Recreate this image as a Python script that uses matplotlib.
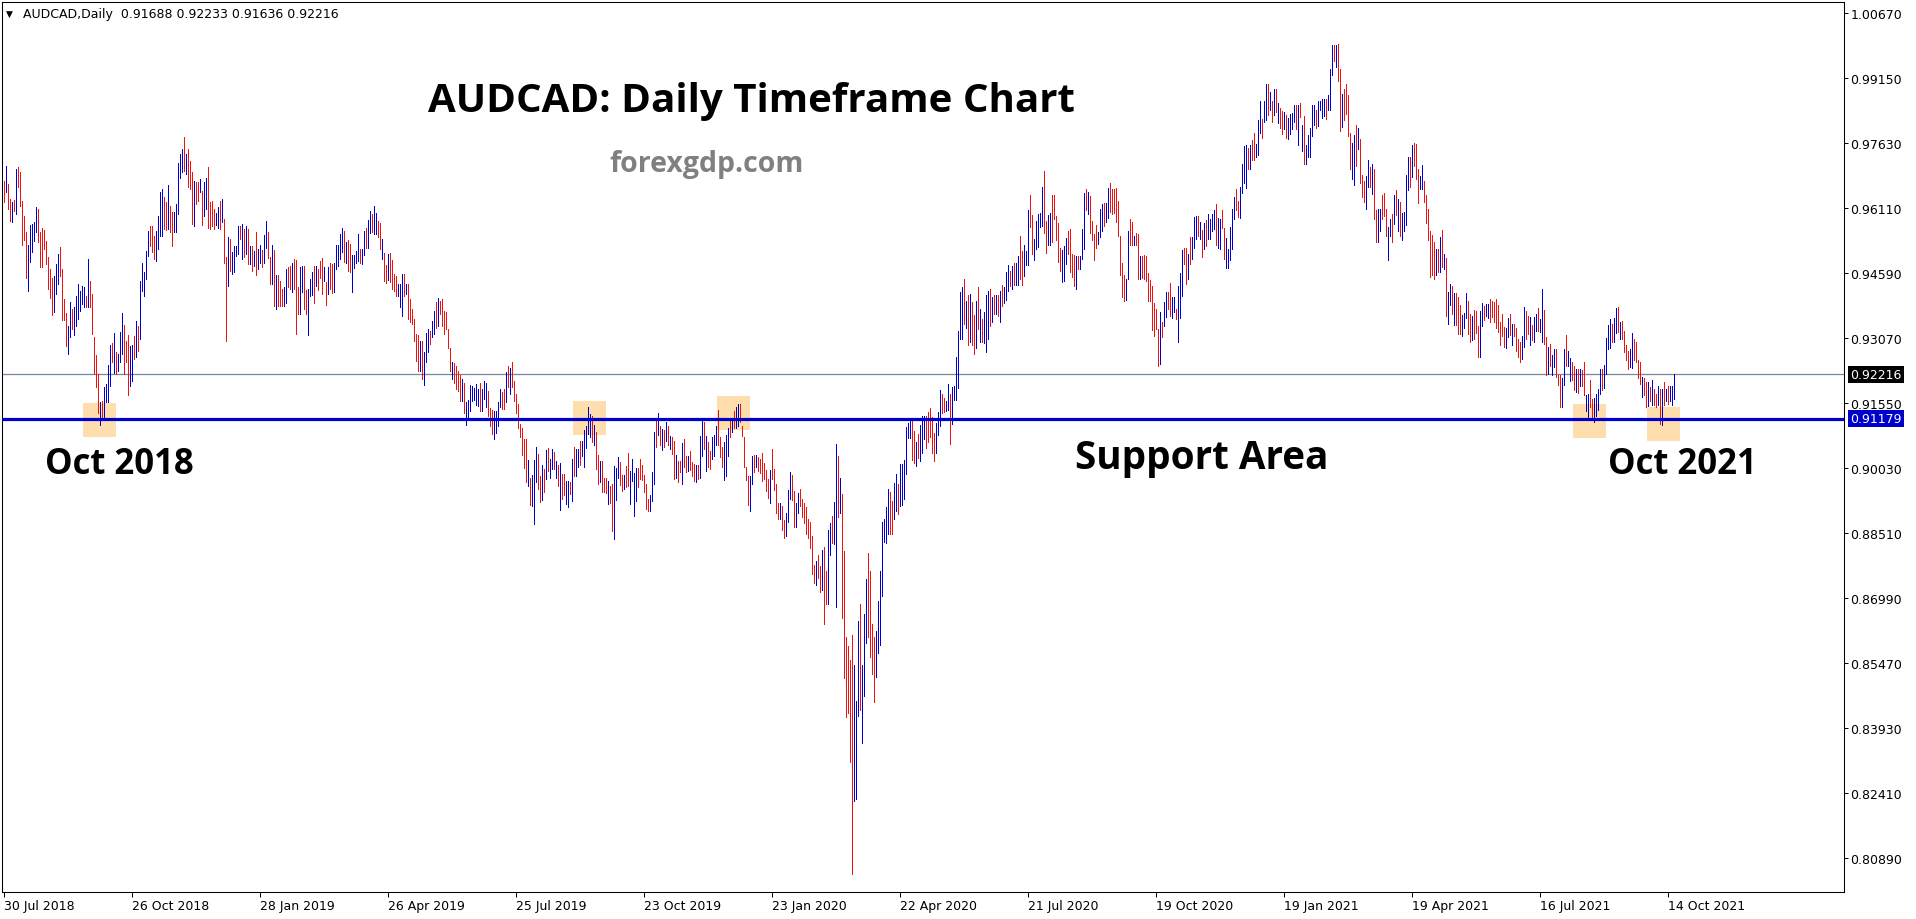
"""
AUDCAD daily bar chart (MetaTrader style) with the support area marked.
"""
import matplotlib
matplotlib.use("Agg")
import matplotlib.pyplot as plt
from matplotlib import transforms
from matplotlib.patches import Rectangle

# chart header values
SYMBOL = "AUDCAD,Daily"
LAST_OHLC = [0.91688, 0.92233, 0.91636, 0.92216]
SUPPORT = 0.91179

# price scale labels (right side)
PRICE_TICKS = [1.00670, 0.99150, 0.97630, 0.96110, 0.94590, 0.93070, 0.91550,
               0.90030, 0.88510, 0.86990, 0.85470, 0.83930, 0.82410, 0.80890]

# date labels, one every 64 bars starting with the first bar
DATE_LABELS = ["30 Jul 2018", "26 Oct 2018", "28 Jan 2019", "26 Apr 2019",
               "25 Jul 2019", "23 Oct 2019", "23 Jan 2020", "22 Apr 2020",
               "21 Jul 2020", "19 Oct 2020", "19 Jan 2021", "19 Apr 2021",
               "16 Jul 2021", "14 Oct 2021"]

# daily highs, in 1e-4 (pips)
HIGH_PIPS = [
    # Jul 2018 - Jan 2019
    9675, 9710, 9667, 9632, 9625, 9629, 9702, 9706, 9694, 9628,
    9593, 9554, 9524, 9571, 9573, 9577, 9612, 9608, 9555, 9563,
    9560, 9534, 9497, 9468, 9446, 9451, 9479, 9503, 9520, 9469,
    9398, 9366, 9335, 9391, 9374, 9378, 9405, 9433, 9417, 9429,
    9425, 9405, 9491, 9440, 9409, 9308, 9267, 9222, 9156, 9160,
    9191, 9199, 9243, 9290, 9295, 9318, 9273, 9269, 9320, 9366,
    9337, 9300, 9313, 9288, 9290, 9312, 9347, 9335, 9440, 9483,
    9462, 9511, 9557, 9568, 9569, 9546, 9557, 9593, 9647, 9655,
    9636, 9624, 9664, 9616, 9602, 9602, 9620, 9716, 9737, 9749,
    9777, 9737, 9749, 9721, 9694, 9675, 9671, 9671, 9678, 9651,
    9671, 9680, 9706, 9625, 9628, 9608, 9600, 9612, 9628, 9632,
    9585, 9495, 9542, 9538, 9507, 9522, 9522, 9569, 9569, 9573,
    9561, 9569, 9561, 9522, 9522, 9510, 9554, 9515, 9524,
    # Jan 2019 - Jul 2019
    9513, 9547, 9581, 9555, 9497, 9524, 9513, 9454, 9454, 9440,
    9421, 9426, 9469, 9472, 9475, 9483, 9491, 9489, 9427, 9472,
    9475, 9475, 9418, 9421, 9444, 9461, 9474, 9475, 9469, 9487,
    9493, 9472, 9438, 9472, 9482, 9479, 9482, 9524, 9524, 9550,
    9563, 9557, 9530, 9535, 9526, 9500, 9500, 9510, 9550, 9514,
    9514, 9557, 9565, 9582, 9604, 9596, 9616, 9600, 9581, 9575,
    9539, 9505, 9477, 9503, 9505, 9490, 9456, 9452, 9433, 9433,
    9456, 9456, 9433, 9433, 9397, 9374, 9351, 9316, 9313, 9300,
    9300, 9274, 9319, 9327, 9323, 9347, 9370, 9390, 9399, 9393,
    9397, 9370, 9368, 9327, 9284, 9251, 9249, 9241, 9230, 9220,
    9210, 9202, 9156, 9162, 9196, 9195, 9190, 9198, 9187, 9202,
    9187, 9206, 9201, 9183, 9142, 9138, 9136, 9136, 9156, 9188,
    9180, 9187, 9226, 9241, 9237,
    # Jul 2019 - Jan 2020
    9250, 9207, 9175, 9152, 9105, 9097, 9069, 9069, 9020, 8978,
    8986, 9022, 9052, 9035, 8984, 9009, 9000, 9045, 9048, 9023,
    9047, 9039, 9019, 9009, 9014, 8988, 8988, 8973, 8971, 8970,
    9023, 9051, 9047, 9047, 9066, 9066, 9092, 9100, 9144, 9129,
    9123, 9103, 9086, 9033, 9019, 9019, 8978, 8978, 8973, 8961,
    8965, 9008, 9002, 9027, 9016, 8986, 8986, 9008, 9037, 8996,
    9023, 8990, 9002, 9002, 9023, 9010, 8986, 8965, 8930, 8938,
    8994, 9087, 9117, 9131, 9100, 9094, 9092, 9111, 9100, 9078,
    9076, 9066, 9033, 9019, 9019, 9061, 9070, 9031, 9031, 9041,
    9016, 9012, 9009, 9009, 9078, 9117, 9111, 9078, 9064, 9043,
    9074, 9080, 9101, 9139, 9074, 9051, 9064, 9080, 9097, 9113,
    9117, 9136, 9144, 9152, 9152, 9101, 9076, 9004, 8984, 8984,
    9031, 9033, 9033, 9027, 9023,
    # Jan 2020 - Jun 2020
    9038, 9014, 8997, 8976, 8997, 9047, 8999, 8966, 8920, 8920,
    8913, 8880, 8896, 8951, 8992, 8986, 8949, 8920, 8944, 8954,
    8930, 8920, 8911, 8884, 8877, 8844, 8775, 8784, 8798, 8772,
    8810, 8817, 8762, 8858, 8874, 8890, 8922, 9059, 9031, 8978,
    8942, 8807, 8606, 8585, 8554, 8612, 8542, 8458, 8644, 8685,
    8542, 8660, 8743, 8803, 8762, 8637, 8606, 8621, 8690, 8762,
    8877, 8884, 8911, 8954, 8947, 8925, 8968, 8988, 8966, 9012,
    9012, 9021, 9098, 9107, 9114, 9114, 9088, 9062, 9081, 9103,
    9124, 9124, 9124, 9133, 9143, 9122, 9085, 9107, 9133, 9184,
    9175, 9165, 9160, 9200, 9175,
    # Jun 2020 - Dec 2020
    9191, 9194, 9262, 9324, 9415, 9425, 9445, 9394, 9407, 9410,
    9390, 9361, 9394, 9425, 9375, 9350, 9368, 9407, 9417, 9421,
    9402, 9406, 9407, 9406, 9417, 9431, 9425, 9460, 9478, 9464,
    9476, 9482, 9482, 9498, 9545, 9511, 9523, 9509, 9605, 9641,
    9595, 9537, 9581, 9597, 9599, 9659, 9698, 9581, 9595, 9599,
    9641, 9641, 9591, 9576, 9517, 9513, 9521, 9540, 9558, 9562,
    9503, 9501, 9498, 9499, 9498, 9562, 9646, 9654, 9648, 9638,
    9581, 9550, 9571, 9554, 9609, 9620, 9623, 9623, 9657, 9669,
    9654, 9654, 9657, 9626, 9545, 9482, 9454, 9445, 9556, 9584,
    9579, 9545, 9552, 9550, 9498, 9498, 9501, 9499, 9459, 9443,
    9428, 9389, 9375, 9328, 9367, 9345, 9390, 9415, 9415, 9435,
    9402, 9402, 9375, 9428, 9459, 9513, 9517, 9517, 9503, 9542,
    9542, 9589, 9591, 9593, 9579,
    # Dec 2020 - May 2021
    9560, 9576, 9582, 9597, 9584, 9597, 9605, 9621, 9587, 9585,
    9607, 9564, 9540, 9514, 9566, 9609, 9636, 9654, 9626, 9660,
    9714, 9755, 9759, 9751, 9759, 9769, 9787, 9761, 9816, 9860,
    9819, 9860, 9901, 9901, 9883, 9862, 9890, 9890, 9857, 9844,
    9837, 9835, 9829, 9821, 9831, 9833, 9852, 9851, 9852, 9857,
    9804, 9826, 9757, 9782, 9798, 9852, 9852, 9841, 9862, 9860,
    9865, 9865, 9866, 9876, 9935, 9993, 9993, 9993, 9995, 9935,
    9878, 9890, 9901, 9876, 9787, 9763, 9782, 9804, 9798, 9773,
    9687, 9675, 9685, 9722, 9706, 9714, 9701, 9607, 9609, 9609,
    9640, 9646, 9609, 9566, 9585, 9597, 9642, 9652, 9632, 9624,
    9599, 9601, 9687, 9730, 9730, 9759, 9763, 9761, 9702, 9685,
    9712, 9675, 9642, 9609, 9558, 9548, 9531, 9514, 9515, 9543,
    9560, 9504, 9493,
    # May 2021 - Oct 2021
    9414, 9433, 9429, 9412, 9412, 9402, 9383, 9361, 9365, 9412,
    9394, 9363, 9359, 9371, 9369, 9334, 9369, 9389, 9381, 9387,
    9387, 9397, 9392, 9390, 9398, 9384, 9345, 9363, 9332, 9330,
    9353, 9363, 9340, 9340, 9330, 9303, 9297, 9312, 9379, 9369,
    9359, 9355, 9336, 9355, 9363, 9376, 9351, 9422, 9371, 9308,
    9285, 9293, 9267, 9281, 9281, 9219, 9219, 9213, 9281, 9314,
    9277, 9259, 9250, 9241, 9234, 9234, 9233, 9231, 9250, 9172,
    9176, 9209, 9164, 9166, 9176, 9188, 9234, 9234, 9244, 9306,
    9337, 9351, 9340, 9353, 9376, 9379, 9345, 9347, 9324, 9291,
    9277, 9281, 9319, 9303, 9297, 9254, 9250, 9215, 9213, 9203,
    9203, 9191, 9209, 9186, 9176, 9195, 9188, 9188, 9203, 9186,
    9194, 9195, 9195, 9223,
]

# daily lows, in 1e-4 (pips)
LOW_PIPS = [
    # Jul 2018 - Jan 2019
    9625, 9647, 9608, 9581, 9577, 9604, 9596, 9659, 9616, 9524,
    9536, 9448, 9417, 9485, 9507, 9534, 9554, 9530, 9473, 9473,
    9515, 9480, 9421, 9401, 9361, 9368, 9409, 9433, 9452, 9348,
    9348, 9288, 9270, 9308, 9327, 9313, 9335, 9352, 9370, 9386,
    9378, 9378, 9378, 9378, 9316, 9222, 9192, 9132, 9103, 9121,
    9121, 9156, 9156, 9195, 9251, 9224, 9222, 9230, 9251, 9269,
    9222, 9250, 9173, 9195, 9207, 9257, 9261, 9277, 9304, 9417,
    9405, 9444, 9499, 9522, 9507, 9491, 9487, 9515, 9546, 9546,
    9561, 9560, 9561, 9554, 9521, 9554, 9554, 9596, 9682, 9694,
    9698, 9690, 9659, 9655, 9573, 9568, 9620, 9628, 9647, 9571,
    9593, 9608, 9565, 9561, 9569, 9561, 9570, 9565, 9561, 9577,
    9483, 9300, 9429, 9464, 9456, 9460, 9499, 9503, 9538, 9491,
    9495, 9503, 9479, 9479, 9464, 9475, 9454, 9468, 9483,
    # Jan 2019 - Jul 2019
    9473, 9482, 9516, 9493, 9433, 9433, 9382, 9374, 9382, 9382,
    9382, 9382, 9388, 9426, 9421, 9415, 9421, 9316, 9362, 9362,
    9415, 9374, 9362, 9313, 9405, 9407, 9388, 9429, 9419, 9448,
    9409, 9440, 9383, 9409, 9421, 9411, 9413, 9469, 9475, 9491,
    9507, 9485, 9483, 9464, 9461, 9415, 9470, 9483, 9487, 9483,
    9479, 9500, 9516, 9518, 9552, 9555, 9550, 9550, 9544, 9514,
    9491, 9440, 9435, 9443, 9438, 9420, 9417, 9405, 9405, 9378,
    9358, 9405, 9409, 9351, 9343, 9339, 9300, 9253, 9230, 9230,
    9210, 9196, 9251, 9273, 9292, 9308, 9316, 9331, 9335, 9362,
    9335, 9316, 9327, 9284, 9230, 9210, 9202, 9187, 9183, 9160,
    9160, 9132, 9103, 9118, 9136, 9160, 9162, 9149, 9148, 9136,
    9136, 9163, 9144, 9124, 9101, 9082, 9070, 9085, 9101, 9144,
    9140, 9140, 9156, 9191, 9175,
    # Jul 2019 - Jan 2020
    9191, 9160, 9131, 9097, 9074, 9033, 9002, 8969, 8960, 8916,
    8914, 8871, 8969, 8953, 8922, 8927, 8945, 8977, 8996, 8978,
    9000, 9000, 8978, 8961, 8905, 8930, 8938, 8918, 8910, 8941,
    8924, 8984, 8984, 9004, 9009, 9031, 9004, 9048, 9082, 9074,
    9064, 9055, 9000, 8965, 8969, 8947, 8945, 8944, 8918, 8920,
    8856, 8835, 8928, 8978, 8963, 8949, 8953, 8957, 8961, 8918,
    8973, 8890, 8924, 8957, 8977, 8975, 8945, 8906, 8902, 8902,
    8924, 8965, 9051, 9080, 9055, 9045, 9051, 9066, 9055, 9047,
    9035, 8977, 8978, 8969, 8992, 8965, 9004, 8992, 8996, 8998,
    8984, 8973, 8970, 8977, 8978, 9031, 9047, 8996, 9004, 9000,
    9023, 9030, 9055, 9055, 9027, 9004, 8975, 8983, 9031, 9074,
    9087, 9097, 9095, 9101, 9109, 9078, 9004, 8975, 8916, 8902,
    8965, 8994, 9004, 8996, 8991,
    # Jan 2020 - Jun 2020
    8973, 8976, 8949, 8932, 8920, 8976, 8951, 8896, 8884, 8884,
    8858, 8839, 8844, 8877, 8930, 8928, 8865, 8865, 8896, 8913,
    8887, 8874, 8848, 8839, 8815, 8755, 8733, 8729, 8746, 8711,
    8717, 8637, 8685, 8683, 8798, 8826, 8825, 8676, 8887, 8896,
    8652, 8510, 8420, 8429, 8314, 8053, 8222, 8228, 8422, 8436,
    8359, 8468, 8592, 8606, 8561, 8520, 8455, 8513, 8570, 8587,
    8702, 8829, 8826, 8848, 8848, 8848, 8882, 8901, 8894, 8913,
    8916, 8930, 8989, 9072, 9072, 9021, 9014, 9007, 9026, 9018,
    9037, 9069, 9050, 9064, 9076, 9037, 9018, 9037, 9079, 9101,
    9131, 9133, 9135, 9139, 9059,
    # Jun 2020 - Dec 2020
    9106, 9162, 9162, 9189, 9303, 9303, 9340, 9329, 9290, 9297,
    9289, 9269, 9283, 9328, 9297, 9298, 9295, 9273, 9304, 9334,
    9345, 9363, 9363, 9357, 9345, 9382, 9389, 9396, 9417, 9429,
    9420, 9431, 9431, 9431, 9445, 9431, 9451, 9478, 9478, 9566,
    9503, 9490, 9515, 9519, 9566, 9568, 9552, 9506, 9523, 9523,
    9531, 9585, 9535, 9485, 9464, 9437, 9439, 9480, 9503, 9460,
    9449, 9429, 9420, 9468, 9468, 9492, 9515, 9607, 9597, 9552,
    9535, 9488, 9517, 9527, 9542, 9558, 9568, 9579, 9587, 9601,
    9597, 9599, 9579, 9545, 9454, 9402, 9392, 9396, 9445, 9523,
    9524, 9523, 9524, 9445, 9445, 9446, 9445, 9441, 9394, 9394,
    9326, 9311, 9328, 9240, 9246, 9310, 9334, 9355, 9375, 9357,
    9353, 9367, 9351, 9298, 9353, 9404, 9480, 9433, 9445, 9480,
    9492, 9517, 9537, 9545, 9538,
    # Dec 2020 - May 2021
    9496, 9515, 9521, 9539, 9539, 9556, 9562, 9525, 9517, 9515,
    9564, 9492, 9470, 9470, 9490, 9514, 9584, 9605, 9589, 9587,
    9646, 9670, 9657, 9701, 9701, 9722, 9724, 9730, 9735, 9787,
    9774, 9813, 9816, 9829, 9839, 9813, 9829, 9835, 9810, 9798,
    9784, 9796, 9774, 9773, 9784, 9796, 9812, 9796, 9757, 9823,
    9745, 9714, 9714, 9730, 9730, 9779, 9804, 9798, 9802, 9839,
    9821, 9826, 9819, 9839, 9839, 9921, 9954, 9940, 9907, 9790,
    9800, 9816, 9831, 9779, 9702, 9679, 9665, 9710, 9748, 9670,
    9636, 9624, 9609, 9660, 9660, 9644, 9584, 9531, 9532, 9556,
    9584, 9593, 9546, 9490, 9545, 9531, 9574, 9595, 9558, 9546,
    9535, 9558, 9571, 9652, 9660, 9683, 9710, 9679, 9623, 9656,
    9656, 9624, 9576, 9535, 9450, 9455, 9445, 9455, 9460, 9462,
    9472, 9467, 9359,
    # May 2021 - Oct 2021
    9340, 9384, 9363, 9337, 9336, 9316, 9316, 9311, 9330, 9353,
    9316, 9298, 9301, 9305, 9319, 9262, 9262, 9334, 9348, 9359,
    9353, 9344, 9355, 9344, 9330, 9320, 9289, 9312, 9285, 9283,
    9309, 9314, 9291, 9312, 9275, 9262, 9250, 9258, 9285, 9303,
    9316, 9289, 9301, 9297, 9322, 9324, 9320, 9297, 9293, 9219,
    9223, 9241, 9219, 9238, 9215, 9197, 9145, 9145, 9197, 9242,
    9242, 9207, 9209, 9184, 9180, 9178, 9195, 9195, 9172, 9135,
    9121, 9145, 9121, 9110, 9125, 9137, 9176, 9184, 9189, 9223,
    9281, 9283, 9298, 9298, 9319, 9320, 9303, 9305, 9273, 9254,
    9234, 9238, 9236, 9254, 9250, 9213, 9199, 9168, 9174, 9145,
    9147, 9158, 9150, 9150, 9145, 9149, 9106, 9103, 9149, 9160,
    9153, 9158, 9149, 9164,
]

# bar direction: U = close above open (blue), D = close below open (red)
BAR_DIRECTION = (
    "DUDDUDUDDD" "DDUUUUUDDD" "DDDDDUUUDD" "DDUUDUUUUU" "UDUDDDDDUD"
    "UUUUDUDUUU" "DDDUUDUDUU" "UUUDDDUUUU" "DDUDDUUUUU" "DUDDDUDDUD"
    "UUDDDDUUDU" "DDUDUUUUDU" "DUDUDUDUU"
    "DUUDDUDUDD" "DUUDDUDDDU" "UDDUUUDUDD" "DUDUDDUUUU" "UDUDDUUUUD"
    "UUDUUDUUDD" "UDDUDDDDUU" "UDUDDDDDDU" "DUUUDUUDUD" "DDDDDUDDDD"
    "UDUUUUUUUD" "UUUDDDUUUU" "DDUDU"
    "DDDDDDDDUD" "UUUDDUDUDU" "UDUDUDDUUD" "UDUUDUUUUU" "DUDDUDDDUD"
    "DUUUDDUDDU" "UUUDDDDDDU" "UUDUDUDUDU" "DDUDDUDDUD" "DDUDUUDUDD"
    "UUUDDDUUUD" "UDUUDDDDDU" "UDUDD"
    "DDDDUDDDDU" "DDUUUDDUUD" "DDDDDDDUDD" "UDDUUDUUDU" "DDDDDDUUUD"
    "UUUDDDDUUU" "UUUUDDUUDU" "UUUUUDDUDU" "UUDDDDDUUU" "DDUUD"
    "UUUUUUDUDU" "DDUDUDUUUD" "UDUDUDUUUD" "UDUUDDUUUD" "DUUUUUDDUU"
    "DDDDDUUUDD" "DDUDUUUDUD" "DDDUUUDUUD" "DDDDDDDUUD" "DUDDUDDDDD"
    "DDDDUDUUDD" "UUDUUUDDUD" "UUUDU"
    "DUDUUUUDUU" "DDUUUUUDDU" "UUUDUDDUUU" "DUUDUDUDUD" "DUDUUUUDUD"
    "UDUUUUUDUU" "UUDUUUDUDD" "UDDDDUUDUD" "DDUUDUDDUU" "DDDUUDUDUD"
    "UUUUDUDDDU" "UDDDDDDUDU" "DUD"
    "UUDUDDDUUU" "DDUDDDUUDU" "UDDDDDDDDU" "UDUDDDDUUD" "DUDUUDUUDD"
    "UDUUDDDUUD" "UUDDUDUDDU" "UDDUUUUDUU" "UUDUUDUDDD" "DUUDDDDUDD"
    "UDUDDUDUDU" "DUUU"
)

# highlighted touches of the support: bar index and price at the centre
HIGHLIGHT_BARS = [48, 293, 365, 793, 830]
HIGHLIGHT_PRICES = [0.9115, 0.9119, 0.9131, 0.9112, 0.9106]

UP_COLOR = "#0000cc"
DOWN_COLOR = "#ee1111"
SUPPORT_COLOR = "#0000cd"
BID_COLOR = "#778899"
HIGHLIGHT_COLOR = "#ffdead"
TEXT_FONT = ["Open Sans", "DejaVu Sans"]

W, H = 1916, 920
PX_PER_BAR = 2.0
PX_PER_PRICE = 4273.5


def fig_xy(x, y):
    """Pixel position (from top-left) to figure fraction."""
    return x / W, 1.0 - y / H


def draw_bars(ax):
    """
    Draws each day as a vertical high-low line coloured by direction.
    """
    assert len(HIGH_PIPS) == len(LOW_PIPS) == len(BAR_DIRECTION)
    for flag, color in (("U", UP_COLOR), ("D", DOWN_COLOR)):
        idx = [i for i, d in enumerate(BAR_DIRECTION) if d == flag]
        ax.vlines(idx,
                  [LOW_PIPS[i] / 1e4 for i in idx],
                  [HIGH_PIPS[i] / 1e4 for i in idx],
                  colors=color, linewidth=0.68, antialiased=False, zorder=3)


def draw_levels(ax):
    """
    Bid line, support line and their price tags on the scale.
    """
    bid = LAST_OHLC[3]
    ax.axhline(bid, color=BID_COLOR, linewidth=0.9, zorder=2)
    ax.axhline(SUPPORT, color=SUPPORT_COLOR, linewidth=2.3, zorder=4)

    trans = transforms.blended_transform_factory(ax.transAxes, ax.transData)
    x_tag = 1.0 + 6.0 / 1842
    for value, bg in ((bid, "black"), (SUPPORT, SUPPORT_COLOR)):
        ax.text(x_tag, value, "%.5f" % value, transform=trans,
                color="white", fontsize=9, va="center", ha="left",
                family="DejaVu Sans", clip_on=False, zorder=6,
                bbox=dict(boxstyle="square,pad=0.18", facecolor=bg,
                          edgecolor="none"))

    half_w = 8.4
    half_h = 16.9 / PX_PER_PRICE
    for bar, price in zip(HIGHLIGHT_BARS, HIGHLIGHT_PRICES):
        ax.add_patch(Rectangle((bar - half_w, price - half_h),
                               2 * half_w, 2 * half_h,
                               facecolor=HIGHLIGHT_COLOR, edgecolor="none",
                               zorder=1))


def draw_texts(fig):
    """
    Header line and the annotations written on the chart.
    """
    fig.text(*fig_xy(6, 14.5), "\u25bc", fontsize=6.5, va="center",
             family="DejaVu Sans")
    header = SYMBOL + "  " + " ".join("%.5f" % v for v in LAST_OHLC)
    fig.text(*fig_xy(23, 14.5), header, fontsize=9, va="center",
             family="DejaVu Sans")

    fig.text(*fig_xy(751, 112), "AUDCAD: Daily Timeframe Chart",
             fontsize=29, weight="bold", ha="center", va="baseline",
             family=TEXT_FONT)
    fig.text(*fig_xy(707, 172), "forexgdp.com", fontsize=20.5,
             weight="bold", color="#808080", ha="center", va="baseline",
             family=TEXT_FONT)
    fig.text(*fig_xy(45, 474), "Oct 2018", fontsize=25, weight="bold",
             ha="left", va="baseline", family=TEXT_FONT)
    fig.text(*fig_xy(1075, 469), "Support Area", fontsize=27.8,
             weight="bold", ha="left", va="baseline", family=TEXT_FONT)
    fig.text(*fig_xy(1608, 474), "Oct 2021", fontsize=25, weight="bold",
             ha="left", va="baseline", family=TEXT_FONT)


def plot():
    fig = plt.figure(figsize=(W / 100, H / 100), dpi=100)
    left, right, top, bottom = 2.0, 1844.0, 2.5, 893.0
    ax = fig.add_axes([left / W, 1 - bottom / H,
                       (right - left) / W, (bottom - top) / H])

    # bar i sits at pixel 3.5 + 2 i, price scale fixed to the MT4 grid
    x0 = (left - 3.5) / PX_PER_BAR
    ax.set_xlim(x0, x0 + (right - left) / PX_PER_BAR)
    p_top = PRICE_TICKS[0] + (14.0 - top) / PX_PER_PRICE
    ax.set_ylim(p_top - (bottom - top) / PX_PER_PRICE, p_top)

    draw_bars(ax)
    draw_levels(ax)

    ax.yaxis.tick_right()
    ax.set_yticks(PRICE_TICKS)
    ax.set_yticklabels(["%.5f" % v for v in PRICE_TICKS])
    ax.set_xticks([64 * k for k in range(len(DATE_LABELS))])
    ax.set_xticklabels(DATE_LABELS)
    for lab in ax.get_xticklabels():
        lab.set_horizontalalignment("left")
    ax.tick_params(axis="y", direction="out", length=3.0, width=0.72,
                   labelsize=9, pad=1.6)
    ax.tick_params(axis="x", direction="out", length=3.6, width=0.72,
                   labelsize=9, pad=1.2)
    for lab in ax.get_xticklabels() + ax.get_yticklabels():
        lab.set_family("DejaVu Sans")
    for spine in ax.spines.values():
        spine.set_linewidth(0.75)
        spine.set_color("black")

    draw_texts(fig)
    fig.savefig("out.png", dpi=100, facecolor="white")


if __name__ == '__main__':
    plot()
